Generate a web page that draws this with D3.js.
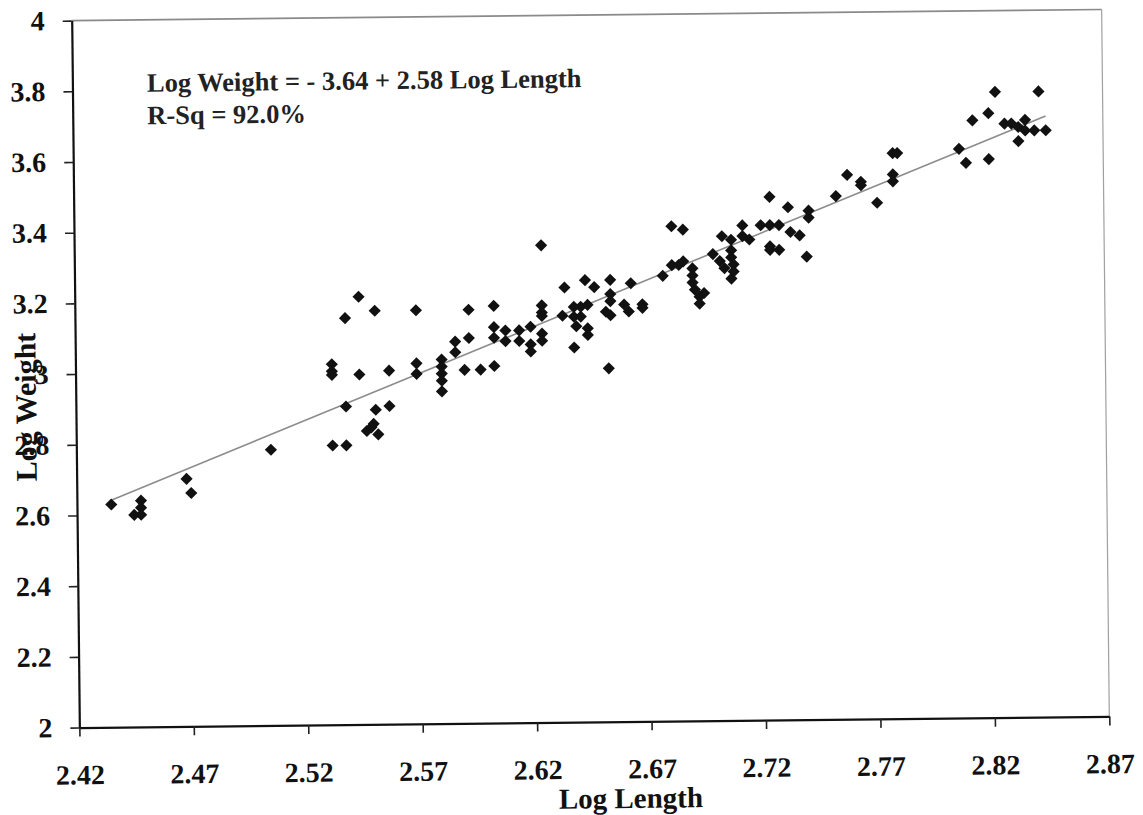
<!DOCTYPE html>
<html>
<head>
<meta charset="utf-8">
<script src="https://cdn.jsdelivr.net/npm/d3@7"></script>
<style>
    body { margin: 0; background: #fff; }
    svg { display: block; }
</style>
</head>
<body>
<div id="chart-container"></div>
<script>
    // Data
    var logLength = [
        2.435, 2.445, 2.448, 2.448, 2.448, 2.468, 2.470, 2.505, 2.532, 2.538,
        2.532, 2.532, 2.532, 2.538, 2.544, 2.551, 2.544, 2.557, 2.538, 2.551,
        2.557, 2.547, 2.550, 2.552, 2.549, 2.569, 2.569, 2.569, 2.580, 2.580,
        2.580, 2.580, 2.580, 2.586, 2.586, 2.592, 2.592, 2.590, 2.597, 2.603,
        2.603, 2.603, 2.603, 2.608, 2.608, 2.614, 2.614, 2.619, 2.619, 2.619,
        2.624, 2.624, 2.624, 2.624, 2.624, 2.624, 2.634, 2.633, 2.638, 2.641,
        2.638, 2.641, 2.639, 2.644, 2.644, 2.638, 2.643, 2.647, 2.644, 2.654,
        2.654, 2.654, 2.652, 2.654, 2.653, 2.660, 2.662, 2.663, 2.668, 2.668,
        2.677, 2.681, 2.686, 2.681, 2.686, 2.684, 2.690, 2.690, 2.690, 2.691,
        2.693, 2.693, 2.695, 2.699, 2.702, 2.704, 2.707, 2.707, 2.708, 2.708,
        2.707, 2.703, 2.707, 2.712, 2.712, 2.715, 2.720, 2.724, 2.728, 2.724,
        2.724, 2.724, 2.728, 2.732, 2.733, 2.737, 2.741, 2.741, 2.740, 2.753,
        2.758, 2.764, 2.764, 2.771, 2.778, 2.780, 2.778, 2.778, 2.807, 2.810,
        2.813, 2.820, 2.823, 2.820, 2.827, 2.830, 2.833, 2.836, 2.836, 2.840,
        2.833, 2.842, 2.845
    ];
    var logWeight = [
        2.63, 2.60, 2.64, 2.62, 2.60, 2.70, 2.66, 2.78, 2.79, 2.79,
        3.02, 3.00, 2.99, 3.15, 3.21, 3.17, 2.99, 3.00, 2.90, 2.89,
        2.90, 2.83, 2.85, 2.82, 2.84, 3.17, 3.02, 2.99, 3.03, 3.01,
        2.99, 2.97, 2.94, 3.08, 3.05, 3.17, 3.09, 3.00, 3.00, 3.01,
        3.18, 3.12, 3.09, 3.11, 3.08, 3.11, 3.08, 3.12, 3.07, 3.05,
        3.18, 3.16, 3.15, 3.10, 3.08, 3.35, 3.23, 3.15, 3.175, 3.175,
        3.147, 3.147, 3.12, 3.114, 3.095, 3.06, 3.25, 3.23, 3.18, 3.25,
        3.21, 3.19, 3.16, 3.15, 3.00, 3.18, 3.16, 3.24, 3.18, 3.17,
        3.26, 3.40, 3.39, 3.29, 3.30, 3.29, 3.28, 3.26, 3.24, 3.22,
        3.20, 3.18, 3.21, 3.32, 3.30, 3.28, 3.33, 3.31, 3.29, 3.27,
        3.25, 3.37, 3.36, 3.40, 3.37, 3.36, 3.40, 3.40, 3.40, 3.48,
        3.34, 3.33, 3.33, 3.45, 3.38, 3.37, 3.44, 3.42, 3.31, 3.48,
        3.54, 3.52, 3.51, 3.46, 3.60, 3.60, 3.54, 3.52, 3.61, 3.57,
        3.69, 3.71, 3.77, 3.58, 3.68, 3.68, 3.67, 3.69, 3.66, 3.66,
        3.63, 3.77, 3.66
    ];

    // Axis ticks and their labels
    var xTicks = [2.42, 2.47, 2.52, 2.57, 2.62, 2.67, 2.72, 2.77, 2.82, 2.87];
    var xTickLabels = ["2.42", "2.47", "2.52", "2.57", "2.62", "2.67", "2.72", "2.77", "2.82", "2.87"];
    var yTicks = [2, 2.2, 2.4, 2.6, 2.8, 3, 3.2, 3.4, 3.6, 3.8, 4];
    var yTickLabels = ["2", "2.2", "2.4", "2.6", "2.8", "3", "3.2", "3.4", "3.6", "3.8", "4"];

    // Fitted line: Log Weight = -3.64 + 2.58 Log Length
    var fitIntercept = -3.64;
    var fitSlope = 2.58;
    var fitText = ["Log Weight = - 3.64 + 2.58 Log Length", "R-Sq = 92.0%"];

    // Dimensions of the graph
    var width = 1143;
    var height = 815;
    var margin = { top: 15, left: 75.5 };
    var innerWidth = 1030;
    var innerHeight = 707;
    var serif = "'Liberation Serif', 'Times New Roman', serif";

    var x = d3.scaleLinear()
        .domain([2.42, 2.87])
        .range([0, innerWidth]);

    var y = d3.scaleLinear()
        .domain([2, 4])
        .range([innerHeight, 0]);

    var svgRoot = d3.select("#chart-container")
        .append("svg")
        .attr("width", width)
        .attr("height", height);

    // The scanned original sits a little crooked, so tilt the whole plot slightly
    var tilt = svgRoot.append("g")
        .attr("transform", "rotate(-0.62, 590.5, 368.5)");

    var svg = tilt.append("g")
        .attr("transform", `translate(${margin.left}, ${margin.top})`);

    // Top and right frame lines (light grey)
    svg.append("line")
        .attr("x1", 0).attr("x2", innerWidth)
        .attr("y1", 0).attr("y2", 0)
        .attr("stroke", "#8a8a8a")
        .attr("stroke-width", 1.6);
    svg.append("line")
        .attr("x1", innerWidth).attr("x2", innerWidth)
        .attr("y1", 0).attr("y2", innerHeight)
        .attr("stroke", "#a0a0a0")
        .attr("stroke-width", 1.2);

    // Regression line over the range of the data
    var xMin = d3.min(logLength);
    var xMax = d3.max(logLength);
    svg.append("line")
        .attr("x1", x(xMin))
        .attr("y1", y(fitIntercept + fitSlope * xMin))
        .attr("x2", x(xMax))
        .attr("y2", y(fitIntercept + fitSlope * xMax))
        .attr("stroke", "#8c8c8c")
        .attr("stroke-width", 1.6);

    // Diamond markers
    var diamond = d3.symbol().type(d3.symbolSquare).size(74);
    svg.append("g")
        .selectAll("path")
        .data(logLength)
        .join("path")
        .attr("d", diamond)
        .attr("transform", (d, i) => `translate(${x(d)}, ${y(logWeight[i])}) rotate(45)`)
        .attr("fill", "#111");

    // X axis
    var xAxis = svg.append("g")
        .attr("transform", `translate(0, ${innerHeight})`)
        .call(d3.axisBottom(x)
            .tickValues(xTicks)
            .tickFormat((d, i) => xTickLabels[i])
            .tickSize(9)
            .tickSizeOuter(0)
            .tickPadding(28));

    // Y axis
    var yAxis = svg.append("g")
        .call(d3.axisLeft(y)
            .tickValues(yTicks)
            .tickFormat((d, i) => yTickLabels[i])
            .tickSize(9)
            .tickSizeOuter(0)
            .tickPadding(18));

    [xAxis, yAxis].forEach(function (ax) {
        ax.select(".domain").attr("stroke", "#111").attr("stroke-width", 2.2);
        ax.selectAll(".tick line").attr("stroke", "#222").attr("stroke-width", 1.6);
        ax.selectAll("text")
            .attr("fill", "#111")
            .style("font-family", serif)
            .style("font-weight", "bold")
            .style("font-size", "28px");
    });

    // Axis titles
    svg.append("text")
        .attr("x", 550.8)
        .attr("y", 793.4)
        .attr("text-anchor", "middle")
        .attr("fill", "#111")
        .style("font-family", serif)
        .style("font-weight", "bold")
        .style("font-size", "29px")
        .text("Log Length");

    svg.append("text")
        .attr("transform", `translate(${35.6 - margin.left}, ${401 - margin.top}) rotate(-90)`)
        .attr("text-anchor", "middle")
        .attr("fill", "#111")
        .style("font-family", serif)
        .style("font-weight", "bold")
        .style("font-size", "30px")
        .text("Log Weight");

    // Fit equation text
    svg.selectAll(".fit-text")
        .data(fitText)
        .join("text")
        .attr("class", "fit-text")
        .attr("x", 150 - margin.left)
        .attr("y", (d, i) => 87 - margin.top + i * 32.5)
        .attr("fill", "#222")
        .style("font-family", serif)
        .style("font-weight", "bold")
        .style("font-size", "26.5px")
        .text(d => d);
</script>
</body>
</html>
